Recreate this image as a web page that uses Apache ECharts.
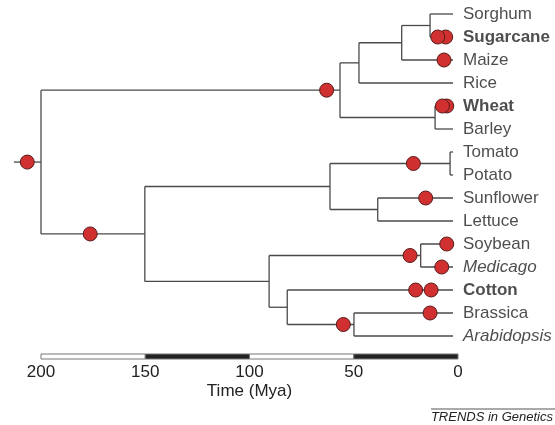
<!DOCTYPE html>
<html>
<head>
<meta charset="utf-8">
<script src="https://cdn.jsdelivr.net/npm/echarts@6/dist/echarts.min.js"></script>
<style>
  html, body { margin: 0; padding: 0; background: #fff; }
  #chart { width: 555px; height: 425px; }
</style>
</head>
<body>
<div id="chart"></div>
<script>
// leaves, top to bottom
const leaves = ['Sorghum', 'Sugarcane', 'Maize', 'Rice', 'Wheat', 'Barley', 'Tomato', 'Potato',
  'Sunflower', 'Lettuce', 'Soybean', 'Medicago', 'Cotton', 'Brassica', 'Arabidopsis']
const boldLeaves = ['Sugarcane', 'Wheat', 'Cotton']
const italicLeaves = ['Medicago', 'Arabidopsis']

// internal nodes: [name, age (Mya), child1, child2]
const nodes = [
  ['sorSug', 13.4, 'Sorghum', 'Sugarcane'],
  ['panicoid', 27, 'sorSug', 'Maize'],
  ['oryza', 47.5, 'panicoid', 'Rice'],
  ['triticeae', 11, 'Wheat', 'Barley'],
  ['grasses', 56.6, 'oryza', 'triticeae'],
  ['solanum', 3.8, 'Tomato', 'Potato'],
  ['aster', 38.5, 'Sunflower', 'Lettuce'],
  ['asterids', 61.4, 'solanum', 'aster'],
  ['legumes', 17.9, 'Soybean', 'Medicago'],
  ['brassicaceae', 49.9, 'Brassica', 'Arabidopsis'],
  ['malvids', 81.9, 'Cotton', 'brassicaceae'],
  ['rosids', 90.6, 'legumes', 'malvids'],
  ['eudicots', 150.2, 'asterids', 'rosids'],
  ['root', 200, 'grasses', 'eudicots']
]
const rootStem = 213
const leafAge = 2.4

// duplication events: [branch (node or leaf it leads to), age]
const events = [
  ['root', 206.6], ['grasses', 63], ['eudicots', 176.4],
  ['Sugarcane', 5.9], ['Sugarcane', 9.7], ['Maize', 6.7],
  ['Wheat', 5.4], ['Wheat', 7.5], ['solanum', 21.4], ['Sunflower', 15.5],
  ['legumes', 23], ['Soybean', 5.4], ['Medicago', 7.8],
  ['Cotton', 12.9], ['Cotton', 20.3], ['brassicaceae', 55], ['Brassica', 13.4]
]

// time scale bar segments: [from, to, fill]
const scaleBar = [[200, 150, '#fff'], [150, 100, '#222'], [100, 50, '#fff'], [50, 0, '#222']]
const timeTicks = [200, 150, 100, 50, 0]

// y position and age of every node
const pos = {}
leaves.forEach((n, i) => { pos[n] = { y: i, t: leafAge } })
nodes.forEach(n => {
  pos[n[0]] = { y: (pos[n[2]].y + pos[n[3]].y) / 2, t: n[1] }
})

// branch segments [t1, y1, t2, y2]
const segs = []
nodes.forEach(n => {
  const p = pos[n[0]]
  const a = pos[n[2]], b = pos[n[3]]
  segs.push([p.t, a.y, p.t, b.y])
  segs.push([p.t, a.y, a.t, a.y])
  segs.push([p.t, b.y, b.t, b.y])
})
segs.push([rootStem, pos.root.y, 200, pos.root.y])

const lineColor = '#4a4a4a'

var myChart = echarts.init(document.getElementById('chart'))

myChart.setOption({
  backgroundColor: '#fff',
  animation: false,
  grid: [
    { left: 41, right: 97, top: 14, height: 322 },
    { left: 41, right: 97, top: 354, height: 5 }
  ],
  xAxis: [
    { gridIndex: 0, type: 'value', min: 0, max: 200, inverse: true, show: false },
    {
      gridIndex: 1, type: 'value', min: 0, max: 200, interval: 50, inverse: true,
      axisLine: { show: false },
      axisTick: { show: false },
      splitLine: { show: false },
      axisLabel: {
        margin: 5, fontSize: 17, color: '#222', fontFamily: 'Liberation Sans',
        formatter: v => timeTicks.includes(v) ? String(v) : ''
      },
      name: 'Time (Mya)',
      nameLocation: 'middle',
      nameGap: 24,
      nameTextStyle: { fontSize: 17, color: '#222', fontFamily: 'Liberation Sans' }
    }
  ],
  yAxis: [
    { gridIndex: 0, type: 'value', min: 0, max: 14, inverse: true, show: false },
    { gridIndex: 1, type: 'value', min: 0, max: 1, show: false }
  ],
  series: [
    {
      type: 'custom',
      xAxisIndex: 0,
      yAxisIndex: 0,
      clip: false,
      data: segs,
      renderItem: (params, api) => {
        const p1 = api.coord([api.value(0), api.value(1)])
        const p2 = api.coord([api.value(2), api.value(3)])
        return {
          type: 'line',
          shape: { x1: p1[0], y1: p1[1], x2: p2[0], y2: p2[1] },
          style: { stroke: lineColor, lineWidth: 1.3 }
        }
      }
    },
    {
      type: 'scatter',
      xAxisIndex: 0,
      yAxisIndex: 0,
      symbolSize: 0,
      data: leaves.map((n, i) => ({
        value: [leafAge, i],
        name: n,
        label: {
          fontWeight: boldLeaves.includes(n) ? 'bold' : 'normal',
          fontStyle: italicLeaves.includes(n) ? 'italic' : 'normal'
        }
      })),
      label: {
        show: true,
        position: 'right',
        distance: 10,
        formatter: p => p.name,
        fontSize: 17,
        color: '#222',
        fontFamily: 'Liberation Sans'
      }
    },
    {
      type: 'scatter',
      xAxisIndex: 0,
      yAxisIndex: 0,
      clip: false,
      symbolSize: 14,
      itemStyle: { color: '#d0302f', borderColor: '#5a1c1c', borderWidth: 1, opacity: 1 },
      data: events.map(e => [e[1], pos[e[0]].y])
    },
    {
      type: 'custom',
      xAxisIndex: 1,
      yAxisIndex: 1,
      data: scaleBar,
      renderItem: (params, api) => {
        const a = api.coord([api.value(0), 1])
        const b = api.coord([api.value(1), 0])
        return {
          type: 'rect',
          shape: { x: Math.min(a[0], b[0]), y: a[1], width: Math.abs(b[0] - a[0]), height: b[1] - a[1] },
          style: { fill: scaleBar[params.dataIndex][2], stroke: '#777', lineWidth: 1 }
        }
      }
    }
  ],
  graphic: [
    { type: 'line', shape: { x1: 431, y1: 409, x2: 555, y2: 409 }, style: { stroke: '#555', lineWidth: 1 } },
    {
      type: 'text', right: 2, top: 411,
      style: { text: 'TRENDS in Genetics', font: 'italic 13px "Liberation Sans"', fill: '#222' }
    }
  ]
})
</script>
</body>
</html>
